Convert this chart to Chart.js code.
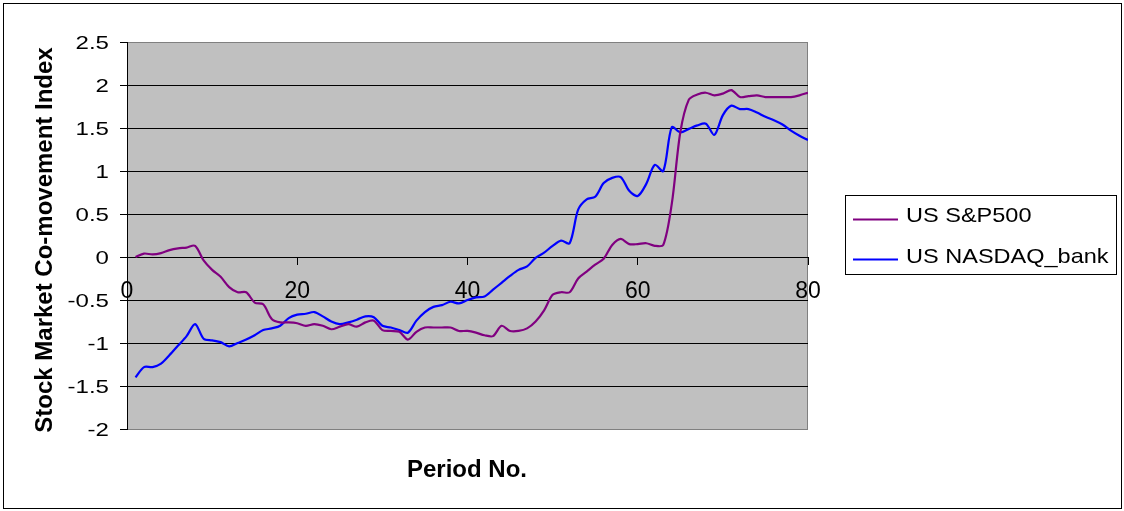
<!DOCTYPE html>
<html>
<head>
<meta charset="utf-8">
<title>Stock Market Co-movement Index</title>
<script src="https://cdn.jsdelivr.net/npm/chart.js@4/dist/chart.umd.min.js"></script>
<style>
  html, body { margin: 0; padding: 0; background: #fff; }
  #wrap { width: 1124px; height: 511px; position: relative; }
</style>
</head>
<body>
<div id="wrap"><canvas id="c" width="1124" height="511"></canvas></div>
<script>
// Period numbers (x values)
const periods = [
  1, 2, 3, 4, 5, 6, 7, 8, 9, 10,
  11, 12, 13, 14, 15, 16, 17, 18, 19, 20,
  21, 22, 23, 24, 25, 26, 27, 28, 29, 30,
  31, 32, 33, 34, 35, 36, 37, 38, 39, 40,
  41, 42, 43, 44, 45, 46, 47, 48, 49, 50,
  51, 52, 53, 54, 55, 56, 57, 58, 59, 60,
  61, 62, 63, 64, 65, 66, 67, 68, 69, 70,
  71, 72, 73, 74, 75, 76, 77, 78, 79, 80
];

// US S&P500 co-movement index per period
const sp500 = [
  0.00, 0.04, 0.03, 0.045, 0.08, 0.10, 0.11, 0.13, -0.04, -0.15,
  -0.23, -0.35, -0.41, -0.41, -0.53, -0.55, -0.72, -0.76, -0.76, -0.77,
  -0.80, -0.78, -0.80, -0.84, -0.81, -0.78, -0.81, -0.76, -0.74, -0.85,
  -0.86, -0.87, -0.96, -0.87, -0.82, -0.82, -0.82, -0.82, -0.86, -0.86,
  -0.88, -0.91, -0.92, -0.80, -0.86, -0.86, -0.83, -0.75, -0.62, -0.44,
  -0.41, -0.41, -0.25, -0.17, -0.09, -0.02, 0.14, 0.21, 0.15, 0.15,
  0.16, 0.13, 0.14, 0.62, 1.45, 1.83, 1.89, 1.91, 1.88, 1.90,
  1.94, 1.86, 1.87, 1.88, 1.86, 1.86, 1.86, 1.86, 1.88, 1.91
];

// US NASDAQ_bank co-movement index per period
const nasdaqBank = [
  -1.40, -1.28, -1.28, -1.24, -1.14, -1.03, -0.92, -0.78, -0.95, -0.97,
  -0.99, -1.04, -1.00, -0.96, -0.91, -0.85, -0.83, -0.80, -0.71, -0.67,
  -0.66, -0.64, -0.69, -0.75, -0.78, -0.76, -0.73, -0.69, -0.70, -0.80,
  -0.82, -0.85, -0.88, -0.74, -0.64, -0.58, -0.56, -0.52, -0.54, -0.50,
  -0.47, -0.46, -0.38, -0.30, -0.22, -0.15, -0.11, -0.01, 0.05, 0.13,
  0.19, 0.16, 0.55, 0.67, 0.70, 0.86, 0.92, 0.93, 0.77, 0.71,
  0.85, 1.07, 1.00, 1.51, 1.45, 1.49, 1.53, 1.55, 1.42, 1.65,
  1.76, 1.72, 1.72, 1.68, 1.63, 1.59, 1.54, 1.47, 1.41, 1.36
];

const seriesNames = ['US S&P500', 'US NASDAQ_bank'];
const seriesColors = ['#800080', '#0000FF'];
const xTitle = 'Period No.';
const yTitle = 'Stock Market Co-movement Index';

const FONT = '"Liberation Sans", Arial, sans-serif';

function toPoints(values) {
  return periods.map((p, i) => ({ x: p, y: values[i] }));
}

// Text drawn with a horizontal stretch factor
function stretchedText(ctx, text, x, y, sx, align) {
  ctx.save();
  ctx.translate(x, y);
  ctx.scale(sx, 1);
  ctx.textAlign = align;
  ctx.fillText(text, 0, 0);
  ctx.restore();
}

const decorations = {
  id: 'decorations',
  beforeDraw(chart) {
    const { ctx, chartArea: a } = chart;
    ctx.save();
    ctx.fillStyle = '#FFFFFF';
    ctx.fillRect(0, 0, chart.width, chart.height);
    // plot area
    ctx.fillStyle = '#C0C0C0';
    ctx.fillRect(a.left, a.top, a.right - a.left, a.bottom - a.top);
    ctx.strokeStyle = '#808080';
    ctx.lineWidth = 1;
    ctx.strokeRect(a.left + 0.5, Math.round(a.top) + 0.5, a.right - a.left - 1, Math.round(a.bottom - a.top));
    // outer frame
    ctx.strokeStyle = '#000000';
    ctx.strokeRect(3.5, 3.5, 1118, 505);
    ctx.restore();
  },
  afterDraw(chart) {
    const { ctx } = chart;
    const ys = chart.scales.y;
    ctx.save();
    ctx.fillStyle = '#000000';

    // value axis labels (shortest form: 2, 1.5, 0, -0.5 ...)
    ctx.font = '18.5px ' + FONT;
    ctx.textBaseline = 'alphabetic';
    ys.ticks.forEach(t => {
      const y = ys.getPixelForValue(t.value);
      const label = String(Math.round(t.value * 10) / 10);
      stretchedText(ctx, label, 109, y + 6.6, 1.3, 'right');
    });

    // axis titles
    ctx.font = 'bold 24px ' + FONT;
    ctx.textAlign = 'center';
    ctx.fillText(xTitle, 467, 477);
    ctx.save();
    ctx.translate(51.5, 240);
    ctx.rotate(-Math.PI / 2);
    ctx.fillText(yTitle, 0, 0);
    ctx.restore();

    // legend
    ctx.strokeStyle = '#000000';
    ctx.lineWidth = 1;
    ctx.strokeRect(845.5, 195.5, 271, 79);
    const rows = [219.5, 259.5];
    const baselines = [221.5, 263];
    ctx.font = '21px ' + FONT;
    chart.data.datasets.forEach((ds, i) => {
      ctx.strokeStyle = ds.borderColor;
      ctx.lineWidth = 2;
      ctx.beginPath();
      ctx.moveTo(853, rows[i]);
      ctx.lineTo(898, rows[i]);
      ctx.stroke();
      ctx.fillStyle = '#000000';
      stretchedText(ctx, ds.label, 906, baselines[i], 1.12, 'left');
    });
    ctx.restore();
  }
};

new Chart(document.getElementById('c'), {
  type: 'line',
  data: {
    datasets: [
      { label: seriesNames[0], data: toPoints(sp500), borderColor: seriesColors[0] },
      { label: seriesNames[1], data: toPoints(nasdaqBank), borderColor: seriesColors[1] }
    ]
  },
  options: {
    responsive: false,
    animation: false,
    devicePixelRatio: 1,
    layout: { padding: { left: 0, top: 42, right: 316, bottom: 82 } },
    elements: {
      line: { borderWidth: 2.2, tension: 0.3, fill: false },
      point: { radius: 0, hoverRadius: 0 }
    },
    plugins: {
      legend: { display: false },
      tooltip: { enabled: false }
    },
    scales: {
      x: {
        type: 'linear',
        position: { y: 0 },
        min: 0,
        max: 80,
        ticks: {
          stepSize: 20,
          color: '#000000',
          padding: 14,
          maxRotation: 0,
          font: { family: FONT, size: 23 }
        },
        grid: {
          drawOnChartArea: false,
          drawTicks: true,
          tickLength: 7,
          tickColor: '#000000'
        },
        border: { display: true, color: '#000000', width: 1 }
      },
      y: {
        type: 'linear',
        min: -2,
        max: 2.5,
        afterFit(scale) { scale.width = 127; },
        ticks: { stepSize: 0.5, display: false },
        grid: {
          color: ctx => (ctx.tick && (ctx.tick.value === 2.5 || ctx.tick.value === -2)) ? '#808080' : '#000000',
          lineWidth: 1,
          drawTicks: true,
          tickLength: 7,
          tickColor: '#000000'
        },
        border: { display: true, color: '#000000', width: 1 }
      }
    }
  },
  plugins: [decorations]
});
</script>
</body>
</html>
